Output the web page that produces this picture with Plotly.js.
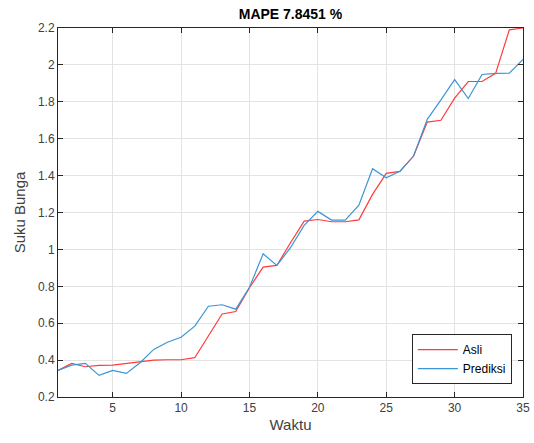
<!DOCTYPE html>
<html><head><meta charset="utf-8">
<script src="https://cdn.plot.ly/plotly-3.0.1.min.js"></script>
<style>html,body{margin:0;padding:0;background:#fff;}#chart{width:534px;height:443px;}</style>
</head><body><div id="chart"></div>
<script>
const waktu = [1,2,3,4,5,6,7,8,9,10,11,12,13,14,15,16,17,18,19,20,21,22,23,24,25,26,27,28,29,30,31,32,33,34,35];
const asli = [0.344,0.382,0.364,0.371,0.373,0.382,0.391,0.400,0.402,0.402,0.413,0.530,0.650,0.663,0.792,0.904,0.913,1.036,1.153,1.162,1.150,1.150,1.160,1.298,1.412,1.423,1.506,1.690,1.700,1.820,1.910,1.910,1.954,2.190,2.200];
const prediksi = [0.344,0.373,0.382,0.317,0.344,0.328,0.386,0.458,0.497,0.524,0.584,0.692,0.700,0.676,0.795,0.976,0.913,1.009,1.130,1.206,1.159,1.159,1.240,1.437,1.388,1.423,1.506,1.705,1.810,1.920,1.818,1.948,1.954,1.955,2.030];
const xTicks = [5,10,15,20,25,30,35];
const yTicks = [0.2,0.4,0.6,0.8,1,1.2,1.4,1.6,1.8,2,2.2];
const yTickText = ['0.2','0.4','0.6','0.8','1','1.2','1.4','1.6','1.8','2','2.2'];

const font = 'Liberation Sans, Arial, sans-serif';
const traces = [
  {x: waktu, y: asli, name: 'Asli', type: 'scatter', mode: 'lines', line: {color: '#ff3b3b', width: 1.2}},
  {x: waktu, y: prediksi, name: 'Prediksi', type: 'scatter', mode: 'lines', line: {color: '#3a96d4', width: 1.2}}
];
const axisCommon = {
  showline: true, linecolor: '#262626', linewidth: 1, mirror: 'ticks',
  ticks: 'inside', ticklen: 5, tickcolor: '#262626', tickwidth: 1,
  showgrid: true, gridcolor: '#e3e3e3', gridwidth: 1, zeroline: false,
  tickfont: {family: font, size: 12, color: '#404040'}
};
const layout = {
  width: 534, height: 443,
  margin: {l: 58, r: 11, t: 28, b: 46},
  paper_bgcolor: '#ffffff', plot_bgcolor: '#ffffff',
  title: {text: '<b>MAPE 7.8451 %</b>', font: {family: font, size: 14, color: '#000'}, x: 0.5, xref: 'paper', xanchor: 'center', y: 0.969, yanchor: 'middle', yref: 'container'},
  xaxis: Object.assign({}, axisCommon, {range: [1, 35], tickvals: xTicks, title: {text: 'Waktu', font: {family: font, size: 15, color: '#404040'}, standoff: 5}}),
  yaxis: Object.assign({}, axisCommon, {range: [0.2, 2.2], tickvals: yTicks, ticktext: yTickText, title: {text: 'Suku Bunga', font: {family: font, size: 15, color: '#404040'}, standoff: 8}}),
  showlegend: true,
  legend: {x: 0.976, y: 0.035, xanchor: 'right', yanchor: 'bottom', bgcolor: '#fff', bordercolor: '#262626', borderwidth: 1,
    font: {family: font, size: 12, color: '#000'}, tracegroupgap: 0, itemwidth: 40}
};
Plotly.newPlot('chart', traces, layout, {displayModeBar: false, staticPlot: true});
</script></body></html>
